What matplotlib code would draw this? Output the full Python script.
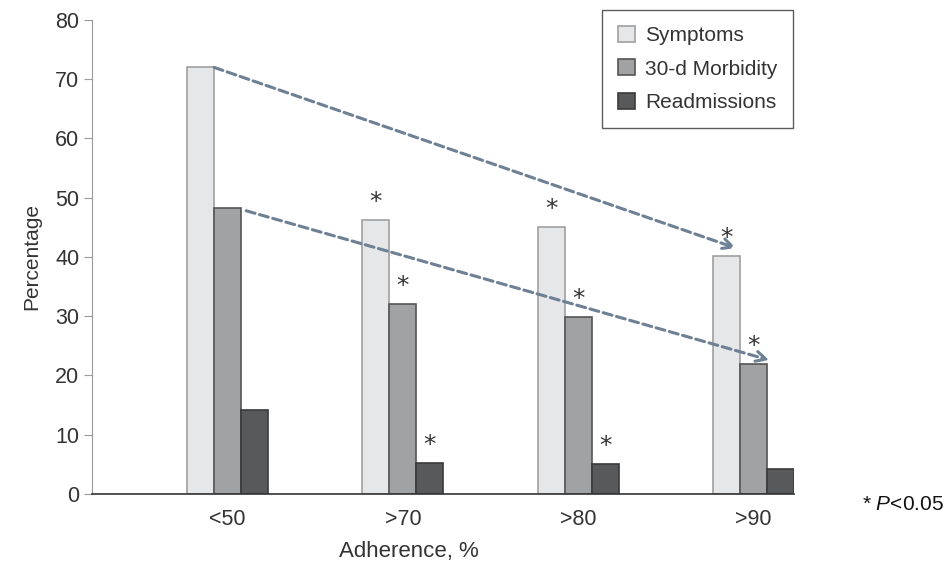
import matplotlib
matplotlib.use('Agg')
import matplotlib.pyplot as plt
import numpy as np

## Chart data.
groups = ['<50', '>70', '>80', '>90']
series_names = ['Symptoms', '30-d Morbidity', 'Readmissions']
symptoms = [72.0, 46.3, 45.0, 40.2]
morbidity = [48.2, 32.0, 29.8, 22.0]
readmissions = [14.2, 5.2, 5.0, 4.2]
## Which bars carry an asterisk (P<0.05).
sig_symptoms = [False, True, True, True]
sig_morbidity = [False, True, True, True]
sig_readmissions = [False, True, True, False]

## Trend arrows: (start group, start value) -> (end group, end value).
arrow_symptoms = ((-0.077, 72.0), (2.90, 41.5))
arrow_morbidity = ((0.106, 47.8), (3.09, 22.6))

plt.rcParams['font.family'] = ['Liberation Sans', 'DejaVu Sans']
plt.rcParams['mathtext.fontset'] = 'custom'
plt.rcParams['mathtext.it'] = 'Liberation Sans:italic'
plt.rcParams['mathtext.rm'] = 'Liberation Sans'

text_color = '#333333'
fills = ['#e6e7e9', '#a1a2a4', '#58595b']
edges = ['#a0a0a0', '#555555', '#3a3a3a']

fig = plt.figure(figsize=(9.47, 5.65), dpi=100)
ax = fig.add_axes([0.0971, 0.1257, 0.7413, 0.8389])

x = np.arange(len(groups))
width = 0.154
values = [symptoms, morbidity, readmissions]
sigs = [sig_symptoms, sig_morbidity, sig_readmissions]
for i, (vals, sig) in enumerate(zip(values, sigs)):
  pos = x + (i - 1) * width
  ax.bar(pos, vals, width, color=fills[i], edgecolor=edges[i], linewidth=1.2,
         label=series_names[i], zorder=2)
  for px, v, s in zip(pos, vals, sig):
    if s:
      ax.annotate('*', xy=(px, v), xytext=(0, 13), textcoords='offset points',
                  ha='center', va='center', fontsize=18, color=text_color,
                  family='DejaVu Sans')

## Dashed trend arrows.
for start, end in [arrow_symptoms, arrow_morbidity]:
  ax.annotate('', xy=end, xytext=start,
              arrowprops=dict(arrowstyle='->', color='#6e8093', lw=2.2,
                              linestyle=(0, (3, 1.5)), shrinkA=0, shrinkB=0,
                              mutation_scale=18), zorder=3)

ax.set_xlim(-0.774, 3.231)
ax.set_ylim(0, 80)
ax.set_yticks(np.arange(0, 81, 10))
ax.set_xticks(x)
ax.set_xticklabels(groups, fontsize=15.5, color=text_color)
ax.tick_params(axis='x', length=0, pad=11)
ax.tick_params(axis='y', direction='out', length=6, color='#999999',
               labelsize=15.5, labelcolor=text_color, pad=3)

ax.spines['top'].set_visible(False)
ax.spines['right'].set_visible(False)
ax.spines['left'].set_color('#999999')
ax.spines['bottom'].set_color('#333333')
ax.spines['bottom'].set_linewidth(1.2)

ax.set_ylabel('Percentage', fontsize=15, color=text_color, labelpad=10)
fig.text(409 / 947, 1 - 551 / 565, 'Adherence, %', ha='center', va='center',
         fontsize=16, color=text_color)
fig.text(903 / 947, 1 - 505 / 565, '* $\\it{P}$<0.05', ha='center', va='center',
         fontsize=15, color='#111111')

leg = ax.legend(loc='upper right', bbox_to_anchor=(793 / 947, 1 - 10 / 565),
                bbox_transform=fig.transFigure, fontsize=15, frameon=True,
                fancybox=False, handlelength=0.8, handleheight=0.8,
                handletextpad=0.5, borderpad=0.75, labelspacing=0.7,
                borderaxespad=0)
leg.get_frame().set_edgecolor('#333333')
leg.get_frame().set_linewidth(1.0)
for t in leg.get_texts():
  t.set_color(text_color)

fig.savefig('out.png', dpi=100)
